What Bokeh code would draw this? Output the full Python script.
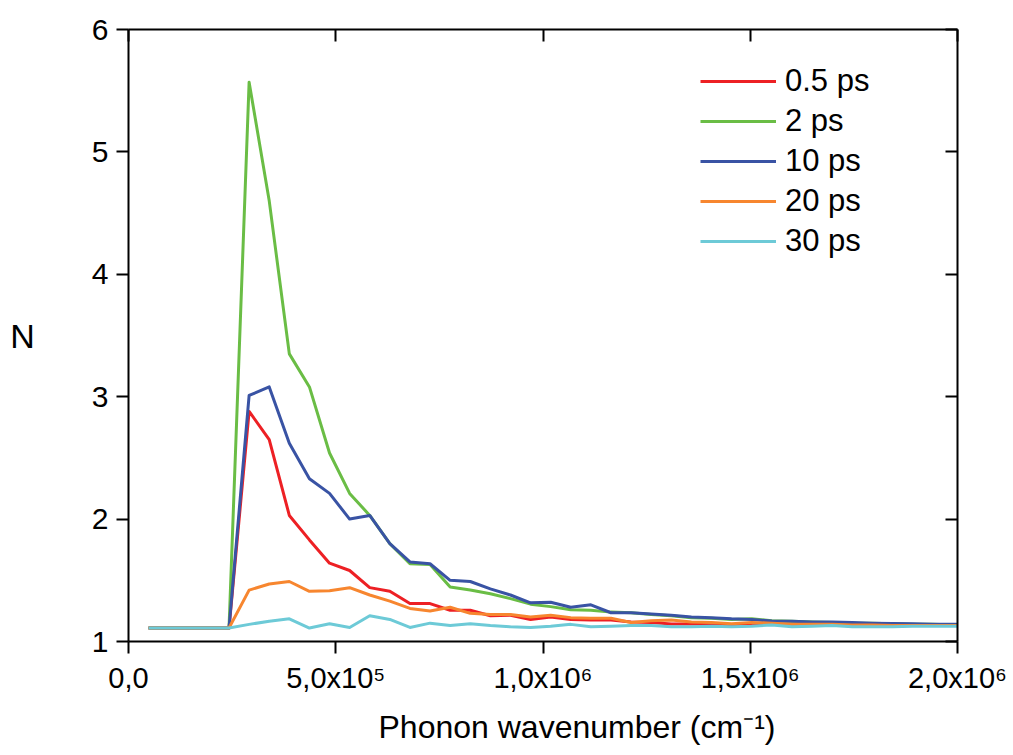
from bokeh.plotting import figure
from bokeh.models import LinearAxis, FixedTicker, Legend, LegendItem, Range1d, Title
from bokeh.embed import file_html
from bokeh.resources import INLINE

# ---- data ----
wavenumber = [48500, 97000, 145500, 194000, 242500, 291000, 339500, 388000, 436500, 485000,
              533500, 582000, 630500, 679000, 727500, 776000, 824500, 873000, 921500, 970000,
              1018500, 1067000, 1115500, 1164000, 1212500, 1261000, 1309500, 1358000, 1406500, 1455000,
              1503500, 1552000, 1600500, 1649000, 1697500, 1746000, 1794500, 1843000, 1891500, 1940000,
              1988500, 2037000]

n_05ps = [1.11, 1.11, 1.11, 1.11, 1.11, 2.88, 2.65, 2.03, 1.83, 1.64,
          1.58, 1.44, 1.41, 1.31, 1.31, 1.255, 1.255, 1.21, 1.215, 1.18,
          1.20, 1.18, 1.175, 1.175, 1.16, 1.155, 1.142, 1.142, 1.142, 1.135,
          1.148, 1.14, 1.14, 1.135, 1.14, 1.135, 1.135, 1.13, 1.13, 1.13,
          1.13, 1.13]

n_2ps = [1.11, 1.11, 1.11, 1.11, 1.11, 5.57, 4.60, 3.35, 3.08, 2.54,
         2.21, 2.03, 1.80, 1.635, 1.63, 1.445, 1.42, 1.39, 1.35, 1.305,
         1.285, 1.26, 1.255, 1.24, 1.235, 1.22, 1.21, 1.195, 1.19, 1.18,
         1.185, 1.17, 1.165, 1.16, 1.155, 1.15, 1.15, 1.145, 1.14, 1.14,
         1.135, 1.135]

n_10ps = [1.11, 1.11, 1.11, 1.11, 1.11, 3.01, 3.08, 2.62, 2.33, 2.21,
          2.00, 2.03, 1.80, 1.65, 1.635, 1.50, 1.49, 1.43, 1.38, 1.316,
          1.32, 1.28, 1.30, 1.235, 1.235, 1.225, 1.215, 1.20, 1.195, 1.185,
          1.18, 1.167, 1.165, 1.16, 1.16, 1.155, 1.15, 1.148, 1.145, 1.14,
          1.14, 1.14]

n_20ps = [1.11, 1.11, 1.11, 1.11, 1.11, 1.42, 1.47, 1.49, 1.41, 1.415,
          1.44, 1.38, 1.33, 1.27, 1.25, 1.28, 1.23, 1.22, 1.22, 1.20,
          1.215, 1.195, 1.19, 1.19, 1.155, 1.17, 1.175, 1.16, 1.155, 1.145,
          1.155, 1.15, 1.14, 1.14, 1.14, 1.135, 1.135, 1.13, 1.13, 1.13,
          1.13, 1.13]

n_30ps = [1.11, 1.11, 1.11, 1.11, 1.11, 1.14, 1.165, 1.185, 1.11, 1.145,
          1.115, 1.21, 1.18, 1.115, 1.15, 1.13, 1.145, 1.13, 1.12, 1.115,
          1.125, 1.14, 1.12, 1.125, 1.13, 1.13, 1.12, 1.12, 1.125, 1.12,
          1.125, 1.135, 1.12, 1.125, 1.13, 1.12, 1.12, 1.12, 1.125, 1.125,
          1.125, 1.125]

series_labels = ["0.5 ps", "2 ps", "10 ps", "20 ps", "30 ps"]
series_colors = ["#ed2024", "#6abd45", "#3953a4", "#f7862f", "#6dcad7"]

x_ticks = [0, 500000, 1000000, 1500000, 2000000]
x_tick_labels = ["0,0", "5,0x10\u2075", "1,0x10\u2076", "1,5x10\u2076", "2,0x10\u2076"]
y_ticks = [1, 2, 3, 4, 5, 6]
x_title = "Phonon wavenumber (cm\u207b\u00b9)"
y_title = "N"

FONT = "Liberation Sans"

p = figure(width=1010, height=755,
           x_range=Range1d(0, 2000000), y_range=Range1d(1, 6),
           output_backend="svg", toolbar_location=None,
           min_border_left=128, min_border_right=53,
           min_border_top=29, min_border_bottom=114)
p.grid.visible = False
p.outline_line_color = None
p.background_fill_color = "white"
p.border_fill_color = "white"

renderers = []
for ys, col in zip([n_05ps, n_2ps, n_10ps, n_20ps, n_30ps], series_colors):
    r = p.line(wavenumber, ys, line_color=col, line_width=3, line_join="round")
    renderers.append(r)

# bottom axis
xa = p.xaxis[0]
xa.ticker = FixedTicker(ticks=x_ticks, minor_ticks=[])
xa.major_label_overrides = {float(t): l for t, l in zip(x_ticks, x_tick_labels)}
xa.major_label_text_font = FONT
xa.major_label_text_font_size = "29px"
xa.major_label_text_color = "black"
xa.major_label_standoff = 8
xa.major_tick_out = 12
xa.major_tick_in = 0
xa.minor_tick_out = 0
xa.minor_tick_in = 0
xa.axis_line_width = 2
xa.major_tick_line_width = 2
xa.axis_line_color = "black"
xa.major_tick_line_color = "black"

# x-axis title, offset to the right as in the reference
p.add_layout(Title(text=x_title, align="left", offset=250, standoff=20,
                   text_font=FONT, text_font_size="32px", text_font_style="normal",
                   text_color="black"), "below")

# left axis
ya = p.yaxis[0]
ya.ticker = FixedTicker(ticks=y_ticks, minor_ticks=[])
ya.axis_label = y_title
ya.axis_label_orientation = "horizontal"
ya.axis_label_text_font = FONT
ya.axis_label_text_font_style = "normal"
ya.axis_label_text_font_size = "34px"
ya.axis_label_text_color = "black"
ya.axis_label_standoff = 54
ya.major_label_text_font = FONT
ya.major_label_text_font_size = "30px"
ya.major_label_text_color = "black"
ya.major_label_standoff = 8
ya.major_tick_out = 12
ya.major_tick_in = 0
ya.minor_tick_out = 0
ya.minor_tick_in = 0
ya.axis_line_width = 2
ya.major_tick_line_width = 2
ya.axis_line_color = "black"
ya.major_tick_line_color = "black"

# mirrored top and right axes with inward ticks, no labels drawn
top = LinearAxis(ticker=FixedTicker(ticks=x_ticks, minor_ticks=[]),
                 major_tick_in=12, major_tick_out=0, minor_tick_in=0, minor_tick_out=0,
                 major_label_text_color=None, major_label_text_font_size="1px",
                 major_label_standoff=0,
                 axis_line_width=2, major_tick_line_width=2,
                 axis_line_color="black", major_tick_line_color="black")
right = LinearAxis(ticker=FixedTicker(ticks=y_ticks, minor_ticks=[]),
                   major_tick_in=12, major_tick_out=0, minor_tick_in=0, minor_tick_out=0,
                   major_label_text_color=None, major_label_text_font_size="1px",
                   major_label_standoff=0,
                   axis_line_width=2, major_tick_line_width=2,
                   axis_line_color="black", major_tick_line_color="black")
p.add_layout(top, "above")
p.add_layout(right, "right")

legend = Legend(items=[LegendItem(label=l, renderers=[r]) for l, r in zip(series_labels, renderers)],
                location=(572, 380), padding=0, margin=0, spacing=0,
                glyph_width=76, glyph_height=40, label_height=40, label_standoff=9,
                label_text_font=FONT, label_text_font_size="31px", label_text_color="black",
                border_line_color=None, background_fill_alpha=0)
p.add_layout(legend, "center")

open("out.html", "w").write(file_html(p, INLINE))
